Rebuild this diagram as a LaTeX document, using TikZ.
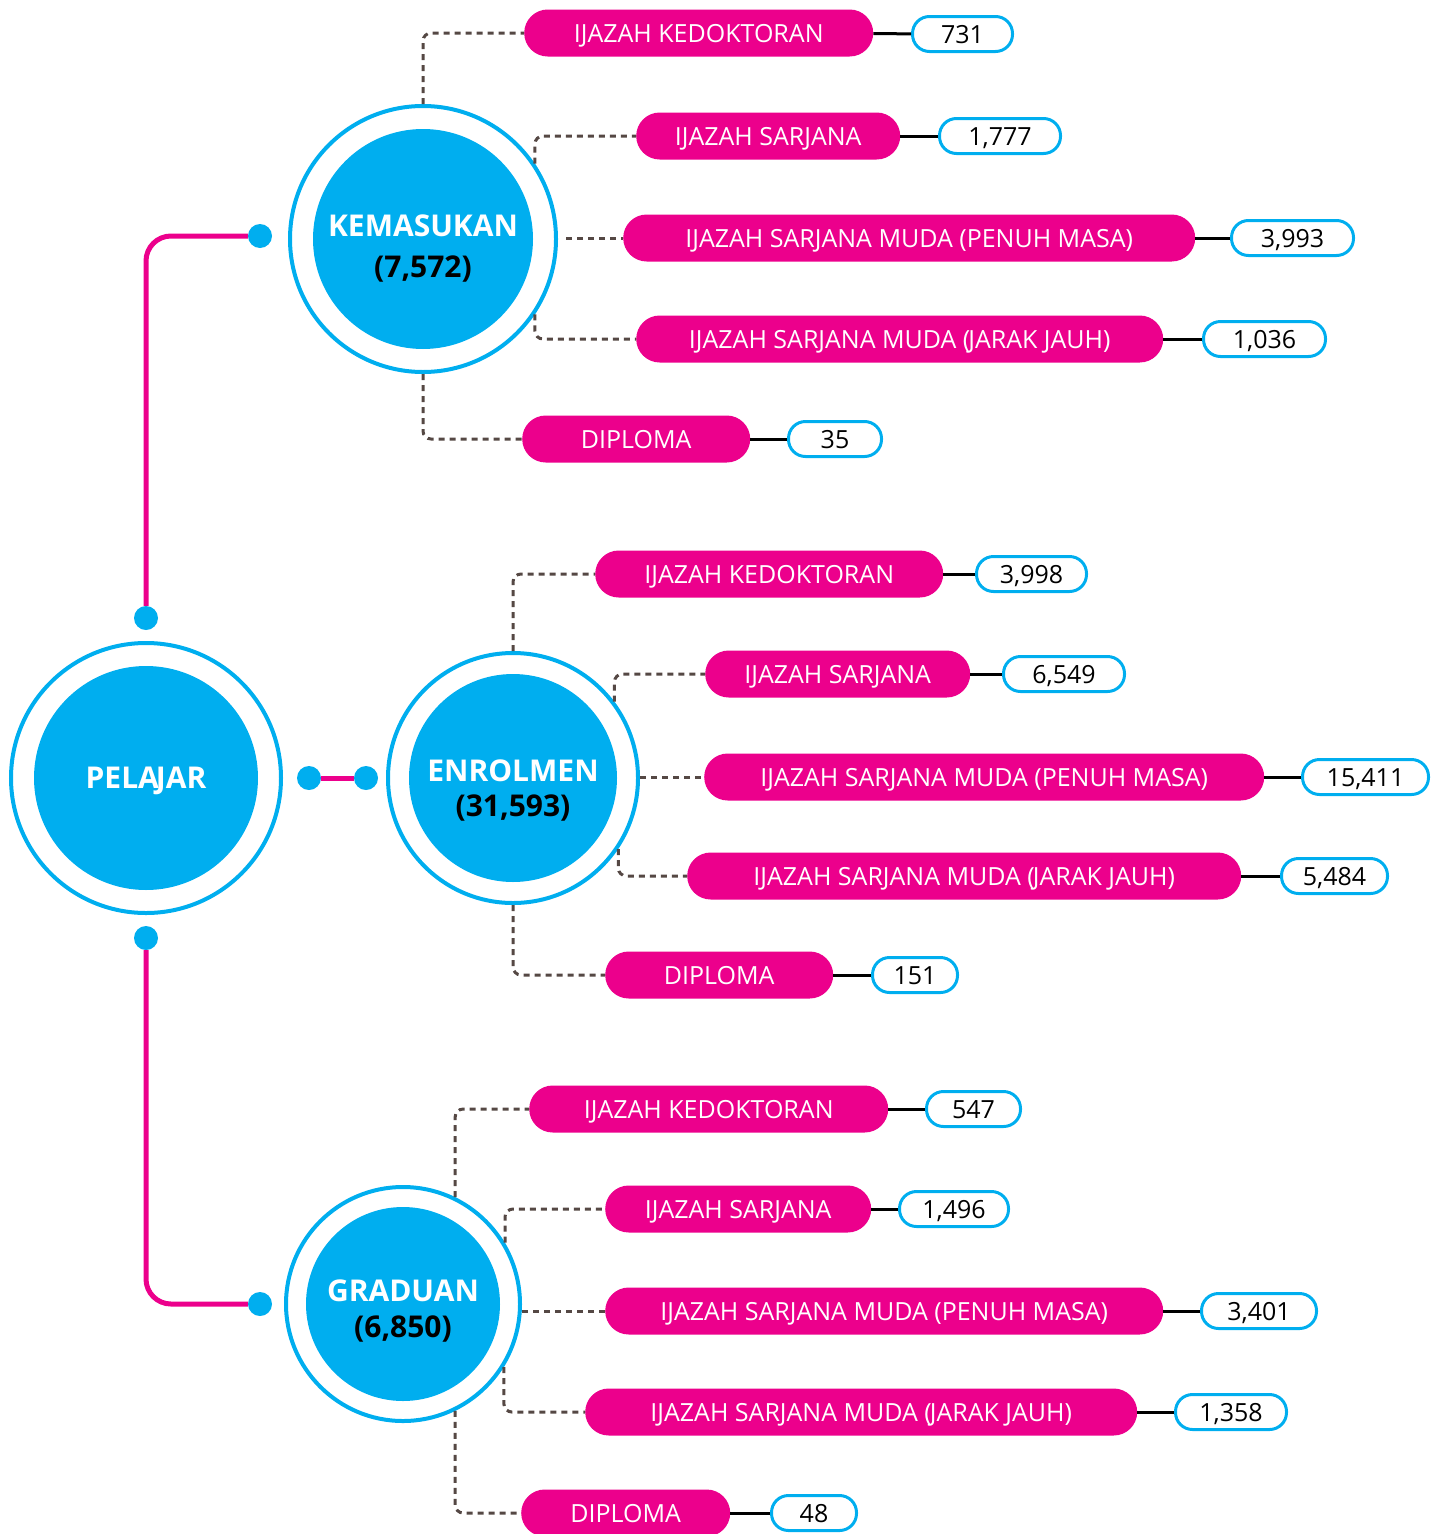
\documentclass[tikz,border=0pt]{standalone}
\usepackage{fontspec}
\setmainfont{Open Sans}
\usepackage{tikz}
\usetikzlibrary{positioning, calc}
\definecolor{pelajarblue}{RGB}{0, 174, 239}
\definecolor{pillpink}{RGB}{236, 0, 140}
\definecolor{dashgray}{RGB}{85, 72, 68}

\tikzset{
  ring/.style={circle, draw=pelajarblue, line width=4pt, inner sep=0pt},
  core/.style={circle, fill=pelajarblue, inner sep=0pt},
  corelabel/.style={align=center, text=white, inner sep=0pt,
    font=\fontsize{30}{41}\selectfont\bfseries},
  dot/.style={circle, fill=pelajarblue, inner sep=0pt, minimum size=24pt},
  pinkline/.style={draw=pillpink, line width=5pt, rounded corners=25pt},
  pill/.style={fill=pillpink, text=white, rounded corners=23.5pt, anchor=west,
    minimum height=47pt, inner sep=0pt, text height=18pt, text depth=0pt,
    font=\fontsize{25}{30}\selectfont},
  valbox/.style={draw=pelajarblue, line width=3pt, rounded corners=17pt, anchor=west,
    minimum height=35pt, inner sep=0pt, text height=18pt, text depth=0pt,
    font=\fontsize{25}{30}\selectfont},
  dashline/.style={draw=dashgray, line width=3pt, dash pattern=on 6pt off 5pt,
    rounded corners=8pt},
  solidline/.style={draw=black, line width=3pt}
}
\newcommand{\jarak}{IJAZAH SARJANA MUDA (\kern-2pt JARAK JAUH)}

\begin{document}
\begin{tikzpicture}[x=1pt, y=-1pt]
    \useasboundingbox (0,0) rectangle (1440,1534);
    % Main circles
    \node[ring, minimum size=270pt] (pel) at (146,778) {};
    \node[core, minimum size=224pt] (pelin) at (146,778) {};
    \node[corelabel] (peltext) at (146,781) {PELA\kern-3pt JAR};
    \node[ring, minimum size=266pt] (kem) at (423,239) {};
    \node[core, minimum size=220pt] (kemin) at (423,239) {};
    \node[corelabel] (kemtext) at (423,249) {KEMASUKAN\\\textcolor{black}{(7,572)}};
    \node[ring, minimum size=250pt] (enr) at (513,778) {};
    \node[core, minimum size=208pt] (enrin) at (513,778) {};
    \node[corelabel, font=\fontsize{30}{35}\selectfont\bfseries] (enrtext) at (513,790) {ENROLMEN\\\textcolor{black}{(31,593)}};
    \node[ring, minimum size=234pt] (gra) at (403,1304) {};
    \node[core, minimum size=194pt] (grain) at (403,1304) {};
    \node[corelabel, font=\fontsize{30}{36}\selectfont\bfseries] (gratext) at (403,1311) {GRADUAN\\\textcolor{black}{(6,850)}};

    % Dots and pink links
    \node[dot] (dk) at (260,236) {};
    \node[dot] (dpt) at (146,618) {};
    \node[dot] (dpb) at (146,938) {};
    \node[dot] (dg) at (260,1304) {};
    \node[dot] (dpr) at (309,778) {};
    \node[dot] (de) at (366,778) {};
    \draw[pinkline] (dk) -| (dpt);
    \draw[pinkline] (dpb) |- (dg);
    \draw[pinkline] (dpr) -- (de);

    % Kemasukan
    \node[pill, minimum width=349pt] (k1) at (524,33) {IJAZAH KEDOKTORAN};
    \node[pill, minimum width=264pt] (k2) at (636,136) {IJAZAH SARJANA};
    \node[pill, minimum width=572pt] (k3) at (623,238) {IJAZAH SARJANA MUDA (PENUH MASA)};
    \node[pill, minimum width=527pt] (k4) at (636,339) {\jarak};
    \node[pill, minimum width=228pt] (k5) at (522,439) {DIPLOMA};
    \node[valbox, minimum width=100pt] (k1v) at (911,34) {731};
    \node[valbox, minimum width=121pt] (k2v) at (938,136) {1,777};
    \node[valbox, minimum width=122pt] (k3v) at (1230,238) {3,993};
    \node[valbox, minimum width=122pt] (k4v) at (1202,339) {1,036};
    \node[valbox, minimum width=93pt] (k5v) at (787,439) {35};
    \draw[dashline] (kem.north) |- (k1.west);
    \draw[dashline] (kem.34) |- (k2.west);
    \draw[dashline] ([xshift=8pt]k3.west -| kem.east) -- (k3.west);
    \draw[dashline] (kem.-34) |- (k4.west);
    \draw[dashline] (kem.south) |- (k5.west);
    \foreach \i in {1,...,5}
        \draw[solidline] (k\i) -- (k\i v);

    % Enrolmen
    \node[pill, minimum width=348pt] (e1) at (595,574) {IJAZAH KEDOKTORAN};
    \node[pill, minimum width=265pt] (e2) at (705,674) {IJAZAH SARJANA};
    \node[pill, minimum width=560pt] (e3) at (704,777) {IJAZAH SARJANA MUDA (PENUH MASA)};
    \node[pill, minimum width=554pt] (e4) at (687,876) {\jarak};
    \node[pill, minimum width=228pt] (e5) at (605,975) {DIPLOMA};
    \node[valbox, minimum width=110pt] (e1v) at (975,574) {3,998};
    \node[valbox, minimum width=121pt] (e2v) at (1002,674) {6,549};
    \node[valbox, minimum width=126pt] (e3v) at (1301,777) {15,411};
    \node[valbox, minimum width=106pt] (e4v) at (1280,876) {5,484};
    \node[valbox, minimum width=85pt] (e5v) at (871,975) {151};
    \draw[dashline] (enr.north) |- (e1.west);
    \draw[dashline] (enr.37) |- (e2.west);
    \draw[dashline] (e3.west -| enr.east) -- (e3.west);
    \draw[dashline] (enr.-34) |- (e4.west);
    \draw[dashline] (enr.south) |- (e5.west);
    \foreach \i in {1,...,5}
        \draw[solidline] (e\i) -- (e\i v);

    % Graduan
    \node[pill, minimum width=359pt] (g1) at (529,1109) {IJAZAH KEDOKTORAN};
    \node[pill, minimum width=266pt] (g2) at (605,1209) {IJAZAH SARJANA};
    \node[pill, minimum width=558pt] (g3) at (605,1311) {IJAZAH SARJANA MUDA (PENUH MASA)};
    \node[pill, minimum width=552pt] (g4) at (585,1412) {\jarak};
    \node[pill, minimum width=209pt] (g5) at (521,1513) {DIPLOMA};
    \node[valbox, minimum width=94pt] (g1v) at (925,1109) {547};
    \node[valbox, minimum width=109pt] (g2v) at (898,1209) {1,496};
    \node[valbox, minimum width=115pt] (g3v) at (1200,1311) {3,401};
    \node[valbox, minimum width=111pt] (g4v) at (1174,1412) {1,358};
    \node[valbox, minimum width=85pt] (g5v) at (770,1513) {48};
    \draw[dashline] (gra.64) |- (g1.west);
    \draw[dashline] (gra.31) |- (g2.west);
    \draw[dashline] (g3.west -| gra.east) -- (g3.west);
    \draw[dashline] (gra.-32) |- (g4.west);
    \draw[dashline] (gra.-64) |- (g5.west);
    \foreach \i in {1,...,5}
        \draw[solidline] (g\i) -- (g\i v);
\end{tikzpicture}
\end{document}
